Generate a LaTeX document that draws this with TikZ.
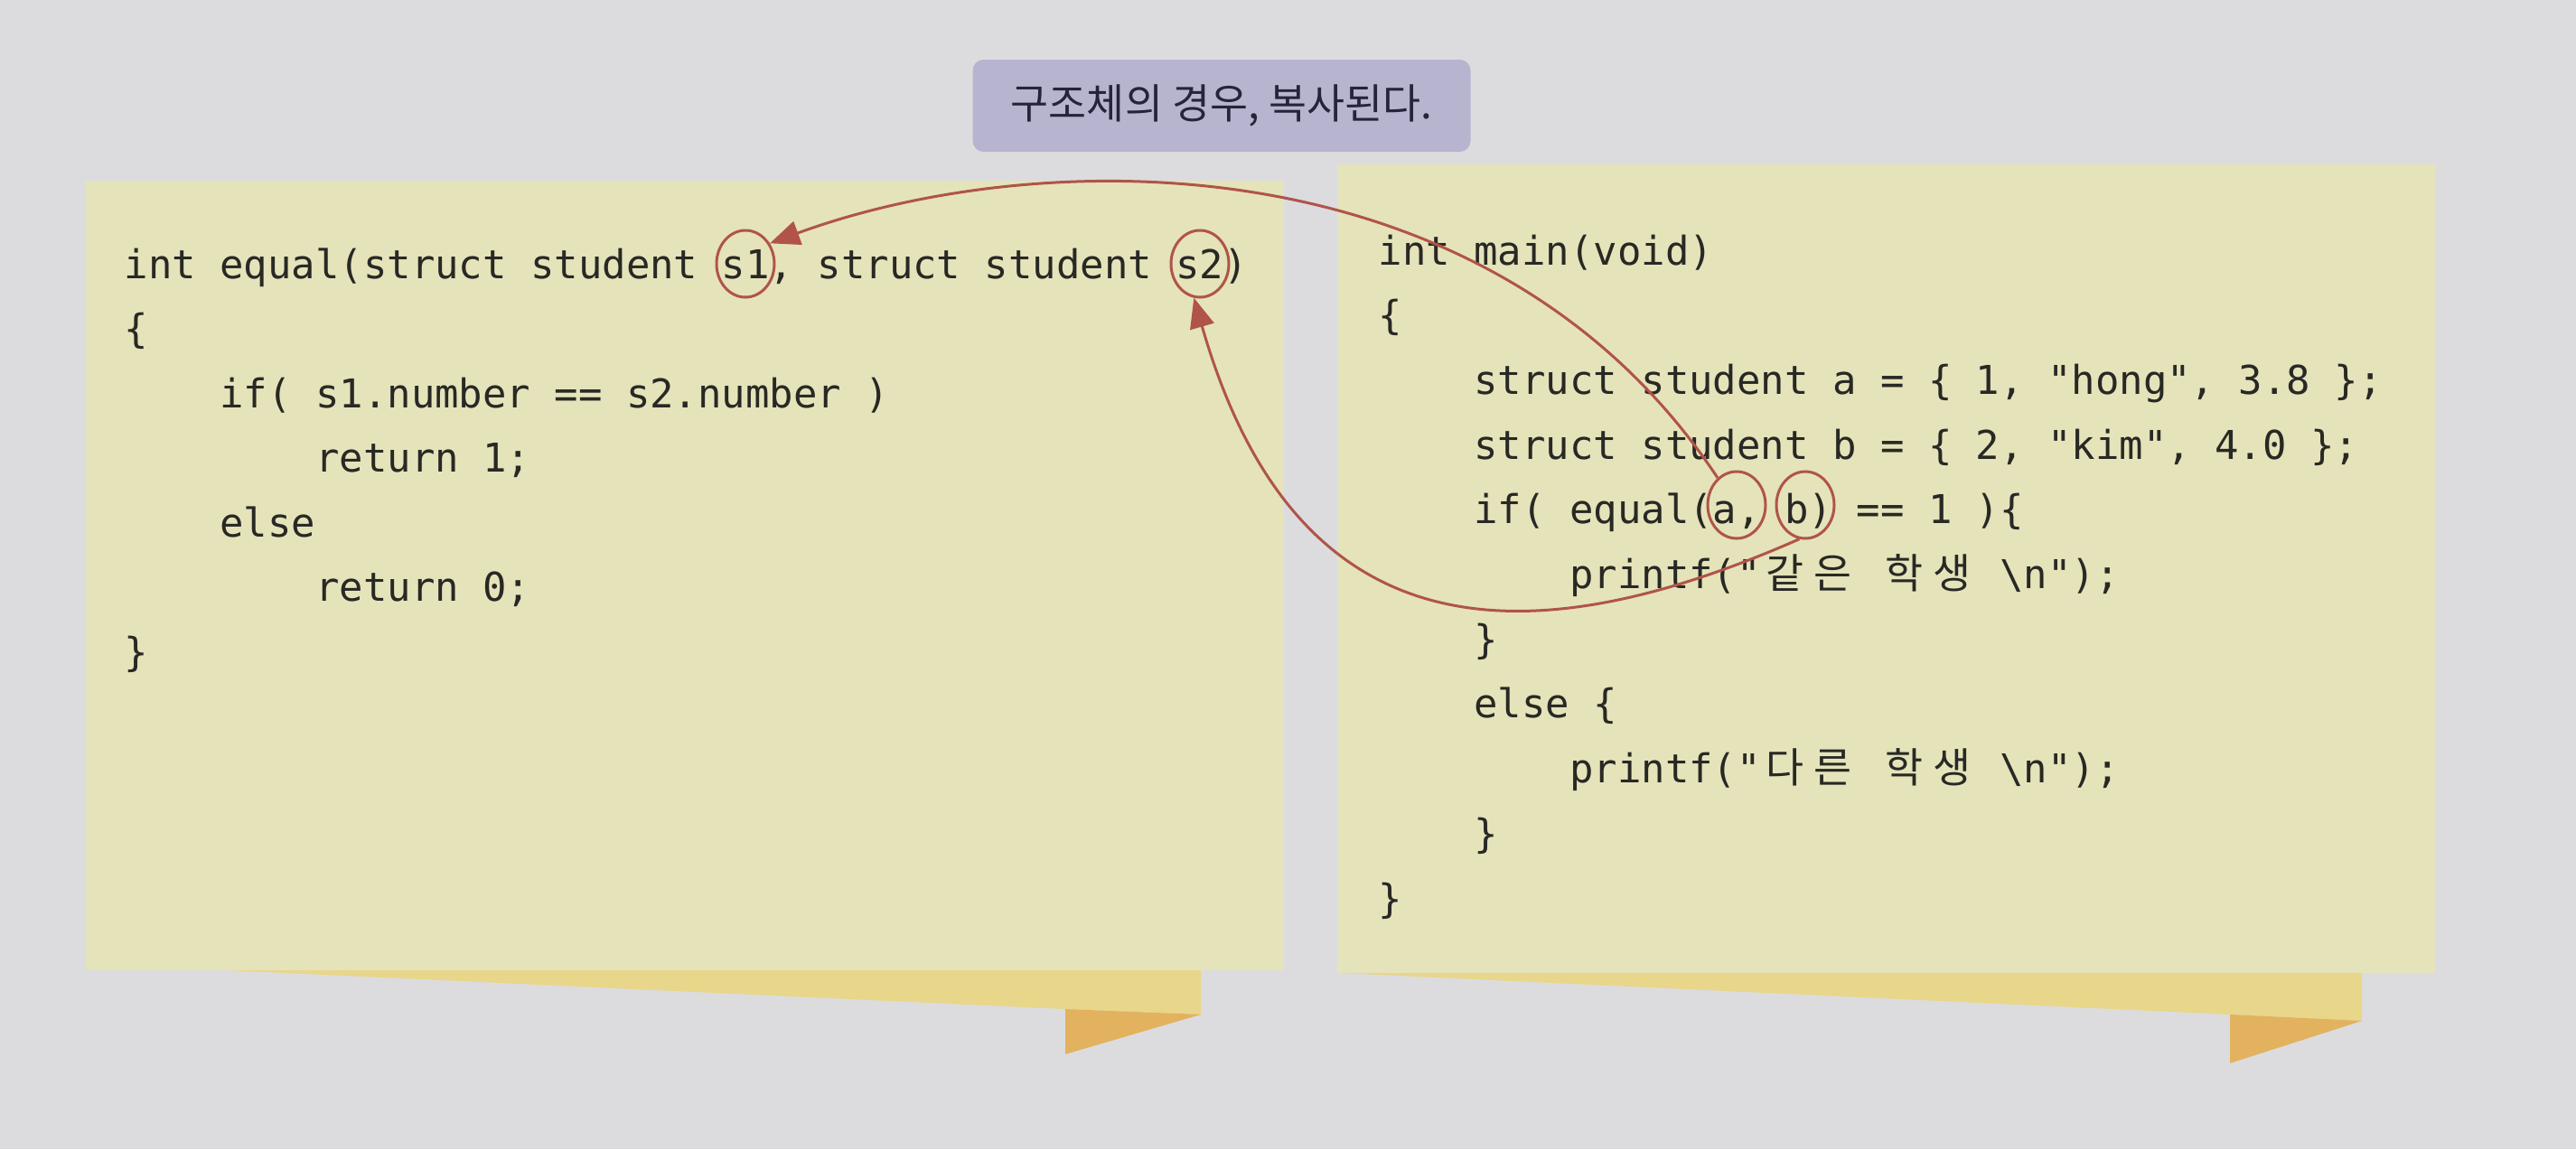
\documentclass[tikz,border=0pt]{standalone}
\usepackage{fontspec}
\setmonofont{DejaVu Sans Mono}
\newfontfamily\krfont{Noto Sans CJK KR}
\usetikzlibrary{arrows.meta, shapes.geometric}

\definecolor{pagebg}{RGB}{220,220,223}
\definecolor{panelbg}{RGB}{229,227,186}
\definecolor{bandbg}{RGB}{232,214,138}
\definecolor{tipbg}{RGB}{226,178,94}
\definecolor{titlebg}{RGB}{183,180,208}
\definecolor{arrowred}{RGB}{176,84,74}
\definecolor{codetext}{RGB}{40,40,36}

% one Hangul syllable takes two code columns
\newcommand{\kchar}[1]{\makebox[15.05pt]{\krfont\fontsize{13pt}{15pt}\selectfont #1}}
\newcommand{\codeind}{\phantom{0000}}

\begin{document}
\begin{tikzpicture}[
            code/.style={anchor=base west, inner sep=0pt, font=\ttfamily\fontsize{12.5pt}{15pt}\selectfont, text=codetext},
            argcircle/.style={draw=arrowred, line width=0.03cm, ellipse, minimum width=0.64cm, minimum height=0.74cm, inner sep=0pt},
            titlebox/.style={fill=titlebg, rounded corners=0.12cm, minimum width=5.51cm, minimum height=1.02cm, text=codetext!90!blue, font=\krfont\fontsize{13pt}{15pt}\selectfont},
            arrow/.style={-{Triangle[length=0.33cm, width=0.27cm]}, draw=arrowred, line width=0.03cm}
        ]

            \useasboundingbox (0,0) rectangle (28.51,-12.72);
            \fill[pagebg] (0,0) rectangle (28.51,-12.72);

% Sticky note panels
            \fill[panelbg] (0.95,-2.00) rectangle (14.21,-10.74);
            \fill[panelbg] (14.80,-1.82) rectangle (26.95,-10.77);

% Folded ribbons under the panels
            \fill[bandbg] (2.50,-10.74) -- (13.29,-10.74) -- (13.29,-11.23) -- (11.79,-11.17) -- cycle;
            \fill[tipbg] (11.79,-11.17) -- (13.29,-11.23) -- (11.79,-11.67) -- cycle;
            \fill[bandbg] (14.82,-10.77) -- (26.14,-10.77) -- (26.14,-11.30) -- (24.68,-11.23) -- cycle;
            \fill[tipbg] (24.68,-11.23) -- (26.14,-11.30) -- (24.68,-11.77) -- cycle;

% Caption
            \node (title) [titlebox] at (13.52,-1.17) {구조체의 경우, 복사된다.};

% Function equal
            \node (eq1) [code] at (1.37,-3.08) {int equal(struct student s1, struct student s2)};
            \node (eq2) [code] at (1.37,-3.795) {\{};
            \node (eq3) [code] at (1.37,-4.51) {\codeind if( s1.number == s2.number )};
            \node (eq4) [code] at (1.37,-5.225) {\codeind\codeind return 1;};
            \node (eq5) [code] at (1.37,-5.94) {\codeind else};
            \node (eq6) [code] at (1.37,-6.655) {\codeind\codeind return 0;};
            \node (eq7) [code] at (1.37,-7.37) {\}};

% Function main
            \node (mn1) [code] at (15.25,-2.93) {int main(void)};
            \node (mn2) [code] at (15.25,-3.647) {\{};
            \node (mn3) [code] at (15.25,-4.364) {\codeind struct student a = \{ 1, "hong", 3.8 \};};
            \node (mn4) [code] at (15.25,-5.081) {\codeind struct student b = \{ 2, "kim", 4.0 \};};
            \node (mn5) [code] at (15.25,-5.798) {\codeind if( equal(a, b) == 1 )\{};
            \node (mn6) [code] at (15.25,-6.515) {\codeind\codeind printf("\kchar{같}\kchar{은} \kchar{학}\kchar{생} \textbackslash{}n");};
            \node (mn7) [code] at (15.25,-7.232) {\codeind\}};
            \node (mn8) [code] at (15.25,-7.949) {\codeind else \{};
            \node (mn9) [code] at (15.25,-8.666) {\codeind\codeind printf("\kchar{다}\kchar{른} \kchar{학}\kchar{생} \textbackslash{}n");};
            \node (mn10) [code] at (15.25,-9.383) {\codeind\}};
            \node (mn11) [code] at (15.25,-10.10) {\}};

% Circled arguments and parameters
            \node (cs1) [argcircle] at (8.25,-2.92) {};
            \node (cs2) [argcircle] at (13.28,-2.92) {};
            \node (ca) [argcircle] at (19.22,-5.59) {};
            \node (cb) [argcircle] at (19.98,-5.59) {};

% Copies: a -> s1, b -> s2
            \draw [arrow] (ca.125) .. controls (16.50,-1.50) and (11.50,-1.60) .. (cs1.40);
            \draw [arrow] (cb.-100) .. controls (16.73,-7.37) and (14.31,-7.12) .. (cs2.-100);

        \end{tikzpicture}
\end{document}
